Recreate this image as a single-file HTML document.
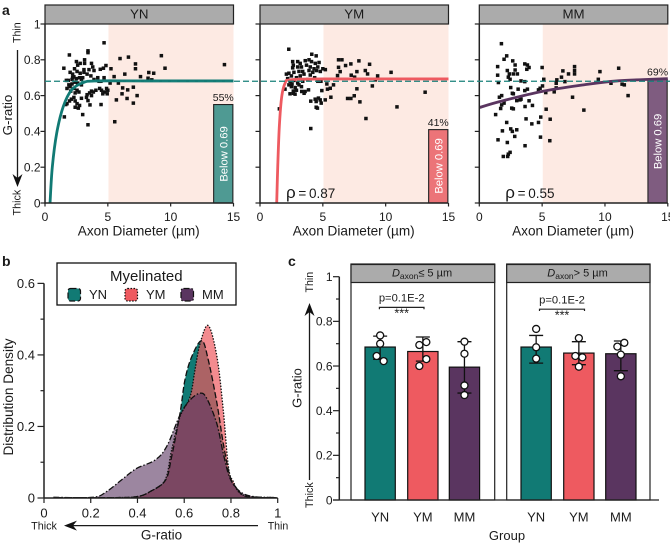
<!DOCTYPE html>
<html lang="en">
<head>
<meta charset="utf-8">
<title>G-ratio chart</title>
<style>
html,body{margin:0;padding:0;background:#fff;}
#figure{display:block;position:absolute;left:0;top:0;}
text{font-family:"Liberation Sans",Arial,sans-serif;fill:#1a1a1a;}
</style>
</head>
<body>
<svg id="figure" width="670" height="544" viewBox="0 0 670 544" xmlns="http://www.w3.org/2000/svg">
<text x="2" y="15" font-size="14" font-weight="bold">a</text>
<text x="2" y="266" font-size="14" font-weight="bold">b</text>
<text x="288" y="266" font-size="14" font-weight="bold">c</text>
<g id="panelA"></g>
<g id="panelB"></g>
<g id="panelC"></g>
</svg>
<script>
// ---------- Panel a data ----------
const scatterTicksX = [0, 5, 10, 15];
const scatterTicksY = [0, 0.2, 0.4, 0.6, 0.8, 1];
const cutoffRatio = 0.68;
const yPointsYN = [[4.7,.895],[3.42,.85],[3.42,.84],[1.94,.827],[6.64,.815],[5.97,.807],[9.26,.823],[14.28,.773],[1.5,.753],[7.2,.777],[7.2,.75],[9.55,.753],[6.35,.72],[5.25,.75],[4.85,.768],[4.65,.753],[4.4,.747],[8.26,.729],[8.65,.725],[7.6,.706],[8.2,.697],[8.5,.688],[5.5,.706],[5.18,.67],[5.84,.67],[6.18,.643],[7.03,.647],[6.58,.632],[6.13,.61],[5.68,.576],[6.53,.584],[7.33,.6],[7.03,.558],[5.55,.454],[3.42,.437],[3,.494],[1.54,.481],[4.46,.55],[3.58,.548],[3.42,.572],[2.5,.79],[2.8,.78],[3.15,.8],[3.15,.78],[2.6,.77],[3.7,.78],[3.8,.76],[2.35,.75],[3.9,.74],[2,.73],[2.2,.72],[2.55,.735],[2.8,.725],[3.1,.73],[3.35,.72],[3.65,.71],[2.3,.705],[2.5,.695],[2.75,.7],[3,.7],[2.15,.69],[1.7,.685],[1.85,.685],[4.7,.7],[4.45,.68],[4.2,.7],[3.9,.69],[2.4,.675],[2.6,.67],[2.9,.66],[2.15,.665],[2,.65],[1.75,.64],[2.3,.64],[2.55,.63],[2.05,.625],[2.4,.615],[2.7,.62],[4.35,.64],[4.5,.63],[4.75,.62],[5,.63],[4.6,.61],[4.05,.63],[3.7,.625],[3.55,.615],[3.35,.605],[3.7,.6],[3.3,.59],[2.9,.585],[2.3,.59],[2.1,.58],[1.95,.57],[2.4,.57],[1.75,.555],[1.65,.55],[2.4,.535],[2.65,.53],[2.55,.555],[2.75,.545],[4.9,.64],[3.1,.745],[3.5,.745],[2.2,.7],[2.9,.69],[4.3,.68],[1.9,.66],[3.85,.62],[4.95,.61]];
const yPointsYM = [[2.29,.859],[4.12,.831],[4.47,.822],[6.25,.8],[6.52,.8],[7.87,.794],[7.23,.777],[6.81,.768],[8.72,.775],[6.25,.758],[6.38,.734],[6.17,.712],[7.71,.734],[8.38,.74],[8.56,.721],[7.26,.714],[7.53,.703],[10.43,.73],[9.36,.71],[9.18,.688],[8.94,.654],[7.71,.638],[13.14,.619],[7.5,.599],[7.23,.584],[6.97,.584],[7.95,.565],[10.9,.537],[8.43,.472],[5.64,.591],[5.19,.576],[4.04,.416],[1.54,.526],[5.85,.66],[5.59,.641],[5.37,.636],[5.32,.665],[4.92,.628],[4.79,.576],[4.87,.558],[4.65,.586],[4.47,.567],[4.39,.58],[4.04,.569],[4.47,.535],[4.57,.53],[3.86,.632],[3.59,.623],[3.32,.623],[3.51,.613],[2.79,.608],[2.66,.613],[2.39,.61],[1.99,.636],[2.6,.79],[2.65,.77],[3,.79],[3.2,.78],[3.6,.795],[3.9,.8],[4.1,.79],[4.4,.78],[4.7,.785],[2.6,.755],[3,.76],[3.3,.76],[3.7,.77],[4.0,.76],[4.3,.75],[4.6,.76],[5.0,.75],[5.2,.745],[2.1,.72],[2.3,.725],[2.7,.73],[3.1,.735],[3.4,.735],[3.9,.74],[4.2,.73],[4.5,.74],[4.8,.735],[2.5,.71],[2.9,.7],[3.2,.71],[3.5,.72],[4,.715],[4.35,.7],[2.4,.68],[2.7,.685],[3,.67],[3.4,.68],[3.8,.69],[4.6,.68],[4.85,.68],[2.3,.66],[2.5,.65],[2.8,.645],[2.55,.665],[3.1,.66],[3.3,.65],[2.9,.63],[2.65,.625],[2.2,.695]];
const yPointsMM = [[1.76,.89],[2.18,.822],[1.97,.803],[2.66,.794],[1.46,.762],[1.46,.714],[1.52,.673],[2.23,.74],[2.39,.721],[2.31,.703],[2.45,.691],[2.85,.771],[2.85,.743],[2.71,.721],[3.03,.721],[3.32,.682],[3.62,.777],[3.83,.771],[3.96,.757],[3.78,.747],[3.62,.678],[3.83,.636],[3.62,.628],[3.09,.636],[2.5,.645],[2.63,.613],[2.71,.61],[1.78,.6],[1.6,.591],[2.98,.572],[3.24,.576],[3.32,.58],[3.96,.571],[1.97,.558],[1.78,.548],[1.7,.528],[1.3,.494],[2.58,.53],[2.71,.526],[3.64,.539],[4.23,.545],[4.71,.632],[4.84,.641],[5,.757],[5.13,.691],[5.03,.654],[5.29,.617],[5.32,.524],[5.64,.468],[4.89,.48],[4.71,.45],[4.18,.442],[3.72,.47],[2.18,.45],[2.5,.414],[2.63,.4],[2.98,.409],[1.84,.403],[2.82,.372],[1.49,.353],[2.23,.338],[3.64,.32],[2.45,.283],[2.31,.273],[2.26,.26],[1.91,.26],[4.87,.368],[5.61,.348],[8.32,.519],[7.42,.591],[5.96,.621],[6.12,.643],[6.12,.669],[6.17,.688],[6.54,.703],[6.81,.678],[6.65,.738],[7.1,.721],[7.58,.762],[7.58,.74],[7.58,.721],[9.47,.691],[9.6,.734],[11.09,.753],[10.48,.669],[11.36,.664],[11.54,.66],[11.84,.6]];
const fitYN = [[.4,0],[.58,.2],[.93,.39],[1.46,.54],[2.12,.632],[3.05,.673],[4.1,.682],[8,.682],[15,.682]];
const fitYM = [[1.33,0],[1.41,.2],[1.54,.43],[1.73,.595],[2,.67],[2.4,.688],[5,.693],[15,.693]];
const fitMM = [[0,.533],[1.65,.567],[4.97,.623],[8.3,.66],[10.95,.682],[15,.695]];
const belowShare = [55, 41, 69];
const rhoValues = [null, '0.87', '0.55'];
const groupNames = ['YN', 'YM', 'MM'];

// ---------- Panel b data ----------
const densityTicksX = [0, 0.2, 0.4, 0.6, 0.8, 1];
const densityTicksY = [0, 0.2, 0.4, 0.6];
const densityYN = [[.05,.001],[.3,.001],[.4,.004],[.454,.018],[.52,.05],[.546,.115],[.582,.237],[.603,.33],[.632,.395],[.675,.44],[.703,.386],[.74,.265],[.767,.153],[.796,.06],[.825,.027],[.867,.004],[.99,.001]];
const densityYM = [[.05,.001],[.3,.001],[.4,.004],[.454,.018],[.518,.05],[.546,.134],[.582,.227],[.625,.283],[.646,.358],[.668,.432],[.703,.482],[.74,.395],[.767,.246],[.789,.088],[.81,.046],[.853,.008],[.99,.001]];
const densityMM = [[.04,.002],[.21,.002],[.268,.018],[.34,.055],[.397,.083],[.475,.106],[.525,.144],[.582,.232],[.625,.274],[.668,.293],[.696,.279],[.739,.209],[.767,.125],[.796,.055],[.839,.018],[.896,.004],[.995,.001]];

// ---------- Panel c data ----------
const barTicksY = [0, 0.2, 0.4, 0.6, 0.8, 1];
const smallMeans = [.685, .665, .595];
const smallErrLow = [.63, .622, .479];
const smallErrHigh = [.734, .73, .709];
const smallDots = [[.737,.70,.645,.622],[.707,.694,.631,.60],[.709,.655,.513,.47]];
const largeMeans = [.685, .658, .655];
const largeErrLow = [.613, .606, .579];
const largeErrHigh = [.737, .709, .712];
const largeDots = [[.766,.684,.633],[.725,.645,.639,.597],[.704,.687,.651,.554]];

// ---------- Helpers ----------
const SVGNS = 'http://www.w3.org/2000/svg';
const groupColors = ['#117a74', '#ee5a60', '#5a3560'];
const lightColors = ['#4f9a93', '#ec7478', '#7f5c80'];
function el(tag, attrs, parent) {
  const n = document.createElementNS(SVGNS, tag);
  for (const k in attrs) n.setAttribute(k, attrs[k]);
  parent.appendChild(n);
  return n;
}
function smooth(pts) {
  let d = 'M' + pts[0][0].toFixed(2) + ',' + pts[0][1].toFixed(2);
  for (let i = 0; i < pts.length - 1; i++) {
    const p0 = pts[Math.max(0, i - 1)], p1 = pts[i], p2 = pts[i + 1], p3 = pts[Math.min(pts.length - 1, i + 2)];
    const c1x = p1[0] + (p2[0] - p0[0]) / 6, c1y = p1[1] + (p2[1] - p0[1]) / 6;
    const c2x = p2[0] - (p3[0] - p1[0]) / 6, c2y = p2[1] - (p3[1] - p1[1]) / 6;
    d += 'C' + c1x.toFixed(2) + ',' + c1y.toFixed(2) + ' ' + c2x.toFixed(2) + ',' + c2y.toFixed(2) + ' ' + p2[0].toFixed(2) + ',' + p2[1].toFixed(2);
  }
  return d;
}
function arrowLine(parent, x1, y1, x2, y2, name) {
  const g = el('g', {}, parent);
  
  
  const dx = x2 - x1, dy = y2 - y1, len = Math.hypot(dx, dy), ux = dx / len, uy = dy / len;
  el('line', {x1: x1, y1: y1, x2: x2 - ux * 5, y2: y2 - uy * 5, stroke: '#1a1a1a', 'stroke-width': 1.3}, g);
  const bx = x2 - ux * 13, by = y2 - uy * 13, mx = x2 - ux * 9, my = y2 - uy * 9;
  el('path', {d: 'M' + x2 + ',' + y2 + 'L' + (bx - uy * 5) + ',' + (by + ux * 5) + 'L' + mx + ',' + my + 'L' + (bx + uy * 5) + ',' + (by - ux * 5) + 'Z', fill: '#111'}, g);
}
function label(parent, str, x, y, size, anchor, name, rotate) {
  const t = el('text', {x: x, y: y, 'font-size': size, 'text-anchor': anchor || 'middle'}, parent);
  if (rotate) t.setAttribute('transform', 'rotate(' + rotate + ' ' + x + ' ' + y + ')');
  t.textContent = str;
  
  
  return t;
}

// ---------- Panel a ----------
const panelA = document.getElementById('panelA');
const scatterSeries = [yPointsYN, yPointsYM, yPointsMM];
const fitSeries = [fitYN, fitYM, fitMM];
const scatterLefts = [45, 260, 479.3];
const scatterWidth = 188.5;
const scatterTop = 24, scatterBottom = 203;
const scatterY = v => scatterBottom - v * (scatterBottom - scatterTop);

scatterLefts.forEach((left, idx) => {
  const xs = v => left + v / 15 * scatterWidth;
  const g = el('g', {}, panelA);
  
  

  const shade = el('rect', {x: xs(5.05), y: scatterTop, width: xs(15) - xs(5.05), height: scatterBottom - scatterTop, fill: '#fdeae3'}, g);
  
  

  const strip = el('rect', {x: left, y: 5, width: scatterWidth, height: scatterTop - 5, fill: '#ababab', stroke: '#222', 'stroke-width': 1.2}, g);
  
  
  label(g, groupNames[idx], left + scatterWidth / 2, 18.7, 13.3, 'middle', 'facet-title');

  const share = belowShare[idx];
  const barInsetLeft = xs(13.42), barInsetRight = xs(14.95);
  const barTop = scatterY(share === 69 ? 0.69 : share / 100);
  const inset = el('rect', {x: barInsetLeft, y: barTop, width: barInsetRight - barInsetLeft, height: scatterBottom - barTop, fill: lightColors[idx], stroke: '#222', 'stroke-width': 1.1}, g);
  
  
  label(g, share + '%', (barInsetLeft + barInsetRight) / 2, barTop - 3.8, 10.5, 'middle', 'below-cutoff-percent');
  const bt = label(g, 'Below 0.69', (barInsetLeft + barInsetRight) / 2 + 4, (idx === 2 ? 141.5 : idx === 1 ? 166 : 154), 11.2, 'middle', 'below-cutoff-label', -90);
  bt.setAttribute('style', 'fill:#fff');

  scatterSeries[idx].forEach(p => {
    const r = el('rect', {x: xs(p[0]) - 1.75, y: scatterY(p[1]) - 1.75, width: 3.5, height: 3.5, fill: '#111'}, g);
    
    
  });

  const fit = el('path', {d: smooth(fitSeries[idx].map(p => [xs(p[0]), scatterY(p[1])])), fill: 'none', stroke: groupColors[idx], 'stroke-width': 2.8}, g);
  
  

  const yAxis = el('line', {x1: left, y1: scatterTop - 0.5, x2: left, y2: scatterBottom + 0.7, stroke: '#222', 'stroke-width': 1.5}, g);
  
  
  const xAxis = el('line', {x1: left, y1: scatterBottom, x2: left + scatterWidth, y2: scatterBottom, stroke: '#222', 'stroke-width': 1.5}, g);
  
  

  scatterTicksY.forEach(v => {
    const t = el('line', {x1: left - 4.5, y1: scatterY(v), x2: left, y2: scatterY(v), stroke: '#222', 'stroke-width': 1.2}, g);
    
    
    if (idx === 0) label(g, String(v), left - 4.5, scatterY(v) + 4.3, 12, 'end', 'y-tick-label');
  });
  scatterTicksX.forEach(v => {
    const t = el('line', {x1: xs(v), y1: scatterBottom, x2: xs(v), y2: scatterBottom + 3.5, stroke: '#222', 'stroke-width': 1.2}, g);
    
    
    label(g, String(v), xs(v), 221, 12, 'middle', 'x-tick-label');
  });
  label(g, 'Axon Diameter (\u00b5m)', left + scatterWidth / 2 - 0.5, 235.5, 13.6, 'middle', 'x-axis-title');

  if (rhoValues[idx]) {
    const rt = el('text', {x: left + 26, y: 198, 'font-size': 13.5}, g);
    
    
    const rs = el('tspan', {'font-size': 17}, rt);
    rs.textContent = '\u03c1';
    const rv = el('tspan', {}, rt);
    rv.textContent = '\u2009=\u2009' + rhoValues[idx];
  }
});

const cutoff = el('line', {x1: 45, y1: scatterY(cutoffRatio), x2: 670, y2: scatterY(cutoffRatio), stroke: '#17807a', 'stroke-width': 1.2, 'stroke-dasharray': '6 3'}, panelA);



label(panelA, 'Thin', 20.5, 43, 10.6, 'start', 'thin-label', -90);
label(panelA, 'Thick', 20.5, 215.5, 10.8, 'start', 'thick-label', -90);
label(panelA, 'G-ratio', 12, 115, 13.3, 'middle', 'y-axis-title', -90);
arrowLine(panelA, 17.5, 50, 17.5, 187, 'thin-to-thick-arrow');

// ---------- Panel b ----------
const panelB = document.getElementById('panelB');
const densX = v => 44 + v * 233.7;
const densY = v => 498 - v * 357.7;
const densitySeries = [densityYN, densityYM, densityMM];
const densityFill = [1, 0.7, 0.6];
const densityDash = ['6 2.5', '1.5 1.5', '6 2 1.5 2'];
densitySeries.forEach((series, idx) => {
  const pts = series.map(p => [densX(p[0]), densY(p[1])]);
  const d = smooth(pts);
  const area = el('path', {d: d + 'L' + pts[pts.length - 1][0] + ',' + densY(0) + 'L' + pts[0][0] + ',' + densY(0) + 'Z', fill: groupColors[idx], 'fill-opacity': densityFill[idx], stroke: 'none'}, panelB);
  
  
});
densitySeries.forEach((series, idx) => {
  const pts = series.map(p => [densX(p[0]), densY(p[1])]);
  const line = el('path', {d: smooth(pts), fill: 'none', stroke: '#111', 'stroke-width': 1.3, 'stroke-dasharray': densityDash[idx]}, panelB);
  
  
});
const bY = el('line', {x1: 44, y1: densY(0.6), x2: 44, y2: densY(0), stroke: '#222', 'stroke-width': 1.5}, panelB);


const bX = el('line', {x1: 44, y1: densY(0), x2: densX(1), y2: densY(0), stroke: '#222', 'stroke-width': 1.5}, panelB);


densityTicksY.forEach(v => {
  const t = el('line', {x1: 37.5, y1: densY(v), x2: 44, y2: densY(v), stroke: '#222', 'stroke-width': 1.2}, panelB);
  
  
  label(panelB, String(v), 35, densY(v) + 4.5, 13, 'end', 'y-tick-label');
  if (v < 0.6) {
    const m = el('line', {x1: 40.5, y1: densY(v + 0.1), x2: 44, y2: densY(v + 0.1), stroke: '#222', 'stroke-width': 1.2}, panelB);
    
    
  }
});
densityTicksX.forEach(v => {
  const t = el('line', {x1: densX(v), y1: densY(0), x2: densX(v), y2: densY(0) + 5, stroke: '#222', 'stroke-width': 1.2}, panelB);
  
  
  label(panelB, String(v), densX(v), 517.5, 13, 'middle', 'x-tick-label');
});
label(panelB, 'Distribution Density', 13, 397, 13.6, 'middle', 'y-axis-title', -90);
label(panelB, 'Thick', 44, 529.5, 10.8, 'middle', 'thick-label');
label(panelB, 'Thin', 278, 529.5, 10.6, 'middle', 'thin-label');
label(panelB, 'G-ratio', 161.5, 539.5, 13.5, 'middle', 'x-axis-title');
arrowLine(panelB, 258, 525.6, 64, 525.6, 'thin-to-thick-arrow');

const legend = el('g', {}, panelB);


const legendBox = el('rect', {x: 57, y: 263, width: 179, height: 42, fill: '#fff', stroke: '#111', 'stroke-width': 1.3}, legend);


label(legend, 'Myelinated', 146.3, 281, 15, 'middle', 'legend-title');
const legendSwatchX = [68, 125, 181];
groupNames.forEach((name, idx) => {
  const s = el('rect', {x: legendSwatchX[idx], y: 288.5, width: 12.5, height: 12.5, rx: 2.5, fill: groupColors[idx], stroke: '#111', 'stroke-width': 1.2, 'stroke-dasharray': densityDash[idx]}, legend);
  
  
  label(legend, name, legendSwatchX[idx] + 21, 299, 13, 'start', 'legend-entry');
});

// ---------- Panel c ----------
const panelC = document.getElementById('panelC');
const barY = v => 500 - v * 223.3;
const facets = [
  {left: 351, right: 494.7, bars: [365, 407.7, 449.3], means: smallMeans, low: smallErrLow, high: smallErrHigh, dots: smallDots, op: '\u2264 5 \u00b5m', pc: 401.7, bw: 22.3, py: 301.7, flipBar: 1, name: 'small-axons'},
  {left: 506.7, right: 650, bars: [521, 563.7, 605.7], means: largeMeans, low: largeErrLow, high: largeErrHigh, dots: largeDots, op: '> 5 \u00b5m', pc: 562, bw: 22.5, py: 303.5, flipBar: 2, name: 'large-axons'}
];
facets.forEach(f => {
  const g = el('g', {}, panelC);
  
  
  const box = el('rect', {x: f.left, y: 264, width: f.right - f.left, height: 236, fill: '#fff', stroke: '#222', 'stroke-width': 1.2}, g);
  
  
  const strip = el('rect', {x: f.left, y: 264.5, width: f.right - f.left, height: 18, fill: '#ababab', stroke: '#222', 'stroke-width': 1.2}, g);
  
  
  const ht = el('text', {x: (f.left + f.right) / 2 - 0.8, y: 276.5, 'font-size': 11, 'text-anchor': 'middle'}, g);
  
  
  const hd = el('tspan', {'font-style': 'italic'}, ht);
  hd.textContent = 'D';
  const hs = el('tspan', {'font-size': 8.5, dy: 2.5}, ht);
  hs.textContent = 'axon';
  const ho = el('tspan', {dy: -2.5}, ht);
  ho.textContent = f.op;

  f.bars.forEach((bx, i) => {
    const w = 30.3, cx = bx + w / 2;
    const bar = el('rect', {x: bx, y: barY(f.means[i]), width: w, height: barY(0) - barY(f.means[i]), fill: groupColors[i], stroke: '#111', 'stroke-width': 1.2}, g);
    
    
    const err = el('path', {d: 'M' + cx + ',' + barY(f.low[i]) + 'V' + barY(f.high[i]) + 'M' + (cx - 7) + ',' + barY(f.low[i]) + 'h14M' + (cx - 7) + ',' + barY(f.high[i]) + 'h14', fill: 'none', stroke: '#111', 'stroke-width': 1.3}, g);
    
    
    const vals = f.dots[i];
    const side = i === f.flipBar ? -1 : 1;
    vals.forEach((v, k) => {
      let off = 0;
      if (k > 0 && Math.abs(barY(vals[k - 1]) - barY(v)) < 7) off = 3.5 * side;
      if (k < vals.length - 1 && Math.abs(barY(vals[k + 1]) - barY(v)) < 7) off = -3.5 * side;
      const c = el('circle', {cx: cx + off, cy: barY(v), r: 3.5, fill: '#fff', stroke: '#111', 'stroke-width': 1.3}, g);
      
      
    });
    label(g, groupNames[i], cx, 521.5, 13, 'middle', 'category-label');
  });
  label(g, 'p=0.1E-2', f.pc, f.py, 11.2, 'middle', 'p-value-label');
  const br = el('path', {d: 'M' + (f.pc - f.bw) + ',' + (f.py + 7.5) + 'v-1.8h' + (f.bw * 2) + 'v1.8', fill: 'none', stroke: '#222', 'stroke-width': 1.2}, g);
  
  
  label(g, '***', f.pc, f.py + 16, 12.5, 'middle', 'significance-stars');
});
const cBase = el('line', {x1: 333, y1: barY(0), x2: 659, y2: barY(0), stroke: '#222', 'stroke-width': 1.3}, panelC);


const cY = el('line', {x1: 339.3, y1: barY(1), x2: 339.3, y2: barY(0), stroke: '#222', 'stroke-width': 1.5}, panelC);


barTicksY.forEach(v => {
  const t = el('line', {x1: 333, y1: barY(v), x2: 339.3, y2: barY(v), stroke: '#222', 'stroke-width': 1.2}, panelC);
  
  
  label(panelC, String(v), 332.5, barY(v) + 4.3, 12, 'end', 'y-tick-label');
  if (v < 1) {
    const m = el('line', {x1: 336, y1: barY(v + 0.1), x2: 339.3, y2: barY(v + 0.1), stroke: '#222', 'stroke-width': 1.2}, panelC);
    
    
  }
});
label(panelC, 'G-ratio', 301.5, 388, 13, 'middle', 'y-axis-title', -90);
label(panelC, 'Thin', 313, 292.5, 10.6, 'start', 'thin-label', -90);
label(panelC, 'Thick', 313, 508, 10.8, 'start', 'thick-label', -90);
arrowLine(panelC, 309.5, 480, 309.5, 303, 'thick-to-thin-arrow');
label(panelC, 'Group', 507, 540, 13, 'middle', 'x-axis-title');
</script>
</body>
</html>
